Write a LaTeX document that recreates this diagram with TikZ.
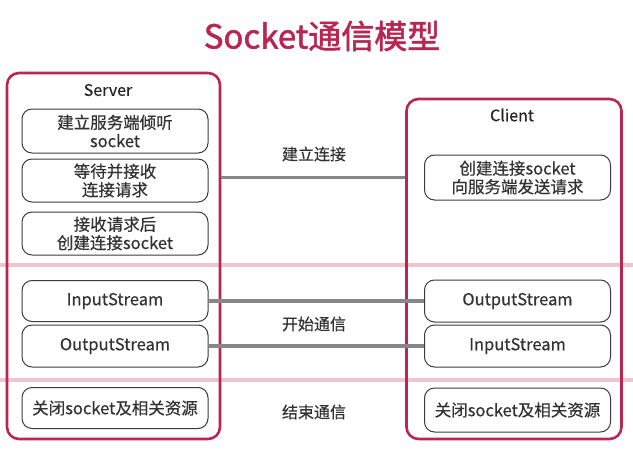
\documentclass[tikz,border=0pt]{standalone}
\usepackage{fontspec}
\setmainfont{Noto Sans CJK SC}
\newfontfamily\titlefont[FakeBold=1.6]{Noto Sans CJK SC}
\newfontfamily\bodyfont[FakeBold=0.5]{Noto Sans CJK SC}
\definecolor{crim}{RGB}{184,38,82}
\definecolor{boxgray}{RGB}{60,60,60}
\definecolor{linegray}{RGB}{135,135,135}
\definecolor{sep}{RGB}{242,196,208}
\begin{document}
\begin{tikzpicture}[x=1pt,y=-1pt,
  outer/.style={draw=crim, line width=2.6pt, rounded corners=12pt, inner sep=0pt},
  inbox/.style={draw=boxgray, line width=1pt, rounded corners=10pt, fill=white,
     minimum width=186pt, align=center, inner sep=0pt,
     font=\bodyfont\fontsize{16.5}{18.5}\selectfont, text=black!80},
  head/.style={font=\bodyfont\fontsize{16}{18}\selectfont, text=black!85},
  lab/.style={font=\bodyfont\fontsize{16}{18}\selectfont, text=black!80},
  conn/.style={draw=linegray, line width=3.5pt},
  sepline/.style={draw=sep, line width=4pt}]
\useasboundingbox (0,0) rectangle (633,458);
\fill[white] (0,0) rectangle (633,458);
% title
\node[font=\titlefont\fontsize{33}{38}\selectfont, text=crim] (title) at (322,36) {Socket通信模型};
% separators
\coordinate (sepA1) at (0,265);
\coordinate (sepA2) at (633,265);
\coordinate (sepB1) at (0,380);
\coordinate (sepB2) at (633,380);
\draw[sepline] (sepA1) -- (sepA2);
\draw[sepline] (sepB1) -- (sepB2);
% outer boxes
\node[outer, minimum width=213pt, minimum height=366pt] (srv) at (113.5,256) {};
\node[outer, minimum width=215pt, minimum height=340pt] (cli) at (514,269) {};
\node[head] (srvlab) at (108,90) {Server};
\node[head] (clilab) at (512,115) {Client};
% server boxes
\node[inbox, minimum height=44pt] (s1) at (115,131) {建立服务端倾听\\socket};
\node[inbox, minimum height=43pt] (s2) at (115,180.5) {等待并接收\\连接请求};
\node[inbox, minimum height=43pt] (s3) at (115,233.5) {接收请求后\\创建连接socket};
\node[inbox, minimum height=41pt] (sin) at (115,301) {InputStream};
\node[inbox, minimum height=42pt] (sout) at (115,346) {OutputStream};
\node[inbox, minimum height=41pt] (sclose) at (115,408) {关闭socket及相关资源};
% client boxes
\node[inbox, minimum height=45pt] (c1) at (517.5,177.5) {创建连接socket\\向服务端发送请求};
\node[inbox, minimum height=42pt] (cout) at (517.5,301) {OutputStream};
\node[inbox, minimum height=42pt] (cin) at (517.5,346) {InputStream};
\node[inbox, minimum height=44pt] (cclose) at (517.5,410) {关闭socket及相关资源};
% connectors
\draw[conn] (srv.east |- c1.west) -- (cli.west |- c1.west);
\draw[conn] (sin.east) -- (cout.west);
\draw[conn] (sout.east) -- (cin.west);
% labels
\node[lab] (l1) at (314,154) {建立连接};
\node[lab] (l2) at (314,324) {开始通信};
\node[lab] (l3) at (314,412) {结束通信};
\end{tikzpicture}
\end{document}
